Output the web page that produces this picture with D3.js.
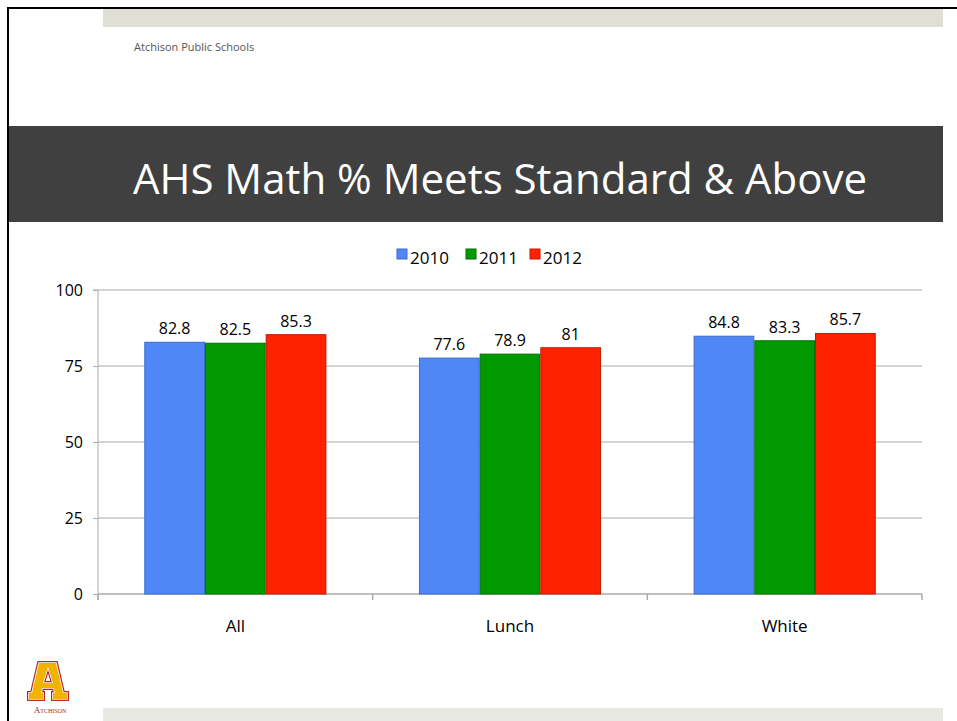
<!DOCTYPE html>
<html>
<head>
<meta charset="utf-8">
<script src="https://cdn.jsdelivr.net/npm/d3@7"></script>
<style>
  body { margin: 0; background: #fff; }
  svg text { font-family: "Open Sans", "Noto Sans", sans-serif; }
</style>
</head>
<body>
<div class="canvas"></div>
<script>
// DATA
const categories = ['All', 'Lunch', 'White'];
const years = ['2010', '2011', '2012'];
const values2010 = [82.8, 77.6, 84.8];
const values2011 = [82.5, 78.9, 83.3];
const values2012 = [85.3, 81, 85.7];
const yTicks = [0, 25, 50, 75, 100];

const seriesColors = ['#4f87f7', '#009a00', '#ff2200'];
const seriesEdges = ['#3a6bd0', '#007200', '#c01800'];

// build rows from the arrays
const series = [values2010, values2011, values2012];
const rows = categories.map((c, i) => ({
    name: c,
    vals: years.map((y, j) => ({ year: y, value: series[j][i], idx: j }))
}));

// SVG
const svg = d3.select('.canvas')
    .append('svg')
    .attr('width', 957)
    .attr('height', 721);

// slide frame
svg.append('rect').attr('x', 0).attr('y', 0).attr('width', 957).attr('height', 721).attr('fill', '#fff');
svg.append('rect').attr('x', 103).attr('y', 9).attr('width', 840).attr('height', 18).attr('fill', '#dfdfd6');
svg.append('rect').attr('x', 103).attr('y', 708).attr('width', 840).attr('height', 13).attr('fill', '#e8e8e2');
svg.append('line').attr('x1', 7).attr('x2', 957).attr('y1', 8).attr('y2', 8).attr('stroke', '#000').attr('stroke-width', 2);
svg.append('line').attr('x1', 8).attr('x2', 8).attr('y1', 7).attr('y2', 721).attr('stroke', '#000').attr('stroke-width', 2);

svg.append('text')
    .attr('x', 134).attr('y', 51)
    .attr('font-size', 11).attr('fill', '#555')
    .text('Atchison Public Schools');

// title bar
svg.append('rect').attr('x', 9).attr('y', 126).attr('width', 934).attr('height', 96).attr('fill', '#404040');
svg.append('text')
    .attr('x', 500).attr('y', 194)
    .attr('text-anchor', 'middle')
    .attr('font-size', 42).attr('fill', '#fff')
    .text('AHS Math % Meets Standard & Above');

// chart area
const plot = { left: 98, right: 922, top: 290, bottom: 594 };

const y = d3.scaleLinear().domain([0, 100]).range([plot.bottom, plot.top]);
const x = d3.scaleBand()
    .domain(categories)
    .range([plot.left, plot.right])
    .paddingInner(0.337)
    .paddingOuter(0.1685);
const x1 = d3.scaleBand().domain(years).range([0, x.bandwidth()]);

// gridlines
svg.append('g')
    .selectAll('line')
    .data(yTicks.filter(d => d > 0))
    .enter().append('line')
    .attr('x1', plot.left).attr('x2', plot.right)
    .attr('y1', d => y(d)).attr('y2', d => y(d))
    .attr('stroke', '#aaa').attr('stroke-width', 1);

// y axis
const yAxis = d3.axisLeft(y).tickValues(yTicks).tickSize(5).tickPadding(10);
const yAxisGroup = svg.append('g').attr('transform', `translate(${plot.left},0)`).call(yAxis);
yAxisGroup.select('.domain').attr('stroke', '#aaa').attr('d', `M-5,${plot.top}H0V${plot.bottom + 6}`);
yAxisGroup.selectAll('.tick line').attr('stroke', '#aaa');
yAxisGroup.selectAll('text').attr('font-size', 16).attr('fill', '#000')
    .style('font-family', '"Open Sans", sans-serif');

// x axis (ticks at band boundaries)
const xAxisGroup = svg.append('g');
xAxisGroup.append('line')
    .attr('x1', plot.left).attr('x2', plot.right)
    .attr('y1', plot.bottom).attr('y2', plot.bottom)
    .attr('stroke', '#aaa').attr('stroke-width', 1.5);
const boundaries = categories.map(c => x(c) - x.step() * x.paddingInner() / 2).concat([plot.right]);
xAxisGroup.selectAll('.bt')
    .data(boundaries)
    .enter().append('line')
    .attr('x1', d => d).attr('x2', d => d)
    .attr('y1', plot.bottom).attr('y2', plot.bottom + 6)
    .attr('stroke', '#aaa').attr('stroke-width', 1.5);
xAxisGroup.selectAll('.cat')
    .data(categories)
    .enter().append('text')
    .attr('x', d => x(d) + x.bandwidth() / 2)
    .attr('y', 632)
    .attr('text-anchor', 'middle')
    .attr('font-size', 17).attr('fill', '#000')
    .text(d => d);

// bars
const groups = svg.selectAll('.grp')
    .data(rows)
    .enter().append('g')
    .attr('transform', d => `translate(${x(d.name)},0)`);

groups.selectAll('rect')
    .data(d => d.vals)
    .enter().append('rect')
    .attr('x', d => x1(d.year) + 0.5)
    .attr('y', d => y(d.value))
    .attr('width', x1.bandwidth() - 1)
    .attr('height', d => y(0) - y(d.value))
    .attr('fill', d => seriesColors[d.idx])
    .attr('stroke', d => seriesEdges[d.idx])
    .attr('stroke-width', 1);

groups.selectAll('.val')
    .data(d => d.vals)
    .enter().append('text')
    .attr('x', d => x1(d.year) + x1.bandwidth() / 2)
    .attr('y', d => y(d.value) - 8)
    .attr('text-anchor', 'middle')
    .attr('font-size', 16).attr('fill', '#000')
    .text(d => d.value);

// legend
const legendX = [397, 466, 530];
const legend = svg.selectAll('.leg')
    .data(years)
    .enter().append('g')
    .attr('transform', (d, i) => `translate(${legendX[i]},249)`);
legend.append('rect')
    .attr('width', 10).attr('height', 10)
    .attr('fill', (d, i) => seriesColors[i])
    .attr('stroke', (d, i) => seriesEdges[i]);
legend.append('text')
    .attr('x', 13).attr('y', 15)
    .attr('font-size', 17).attr('fill', '#000')
    .text(d => d);

// logo: slab-serif "A" drawn as a path
const aPath = 'M11,1H28L35,31H39V37H25V31H27L25.8,26H14.2L13,31H15V37H1V31H4Z M15,21H25L20,5Z';
const logo = svg.append('g').attr('transform', 'translate(28,662)');
logo.append('path').attr('d', aPath).attr('fill', '#b8262b')
    .attr('fill-rule', 'evenodd')
    .attr('stroke', '#b8262b').attr('stroke-width', 4).attr('stroke-linejoin', 'miter');
logo.append('path').attr('d', aPath).attr('fill', '#fff')
    .attr('fill-rule', 'evenodd')
    .attr('stroke', '#fff').attr('stroke-width', 1.6).attr('stroke-linejoin', 'miter');
logo.append('path').attr('d', aPath).attr('fill', '#f0b400')
    .attr('fill-rule', 'evenodd');
logo.append('text')
    .attr('x', 22).attr('y', 51)
    .attr('text-anchor', 'middle')
    .attr('font-size', 9)
    .attr('fill', '#9a2a2a')
    .style('font-family', '"Liberation Serif", serif')
    .style('font-variant', 'small-caps')
    .text('Atchison');
</script>
</body>
</html>
